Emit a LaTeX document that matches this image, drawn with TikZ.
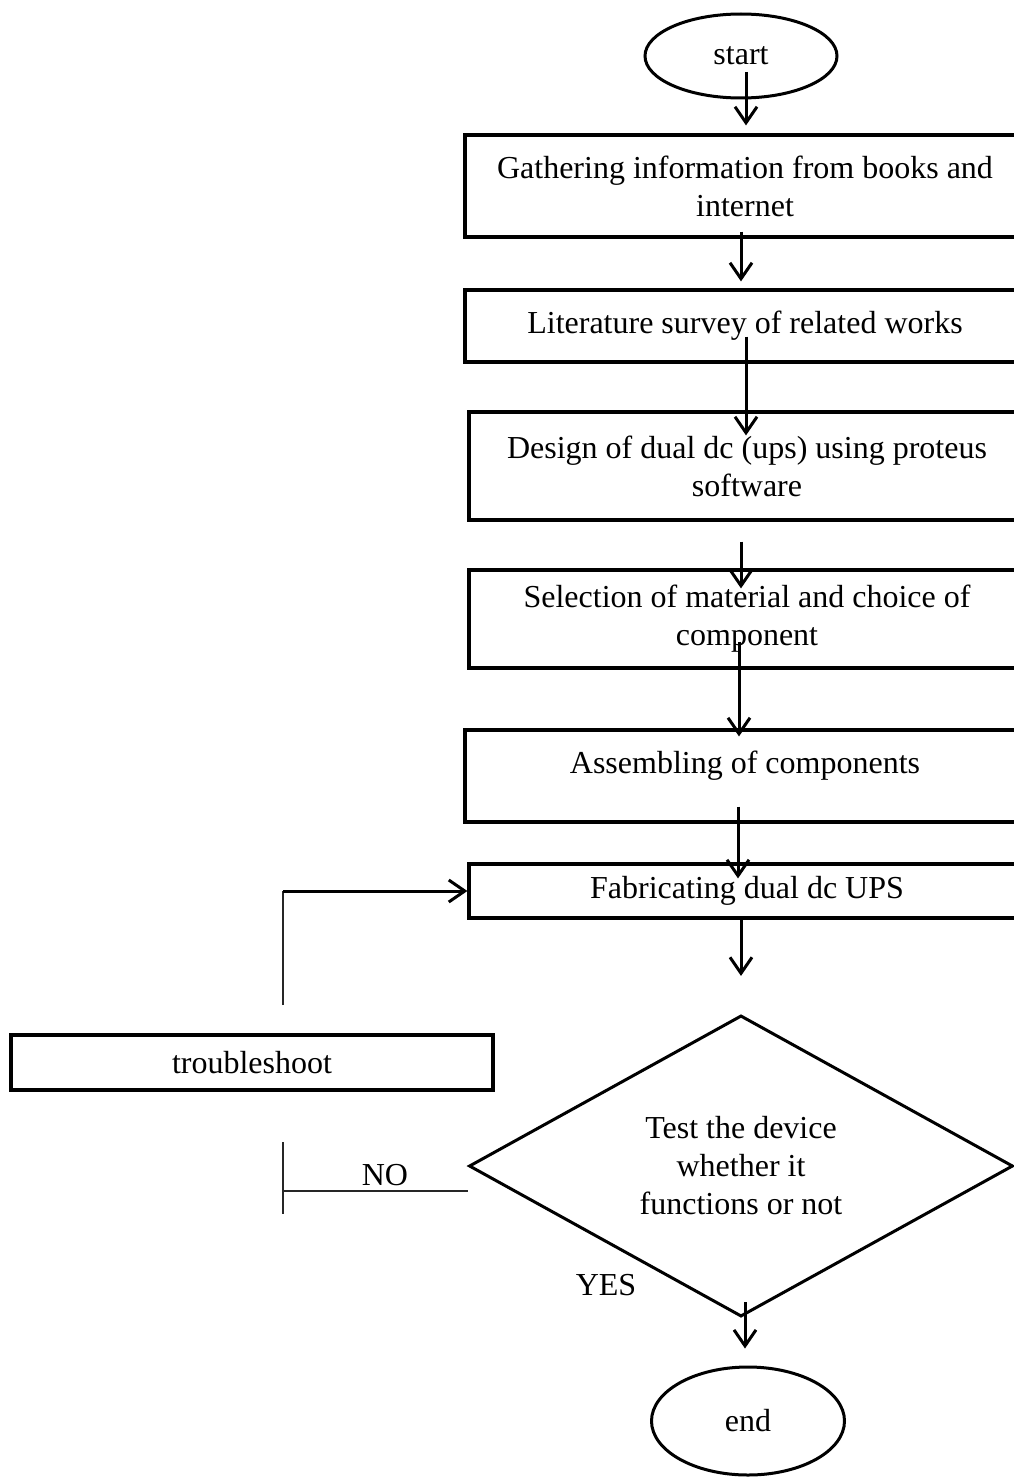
\documentclass[tikz,border=0pt]{standalone}
\usepackage{fontspec}
\setmainfont{Liberation Serif}
\usetikzlibrary{shapes.geometric,arrows.meta}

\begin{document}
\begin{tikzpicture}[x=1pt, y=-1pt, font=\fontsize{32}{38}\selectfont,
    box/.style={draw, line width=3.2pt, align=center, inner sep=0pt},
    terminal/.style={draw, ellipse, line width=3pt, inner sep=0pt},
    decision/.style={draw, diamond, line width=3pt, align=center, inner sep=0pt},
    flow/.style={line width=3pt, -{Straight Barb[length=16pt,width=22pt]}},
    thinline/.style={line width=1.8pt, black!85}]
  \useasboundingbox (0,0) rectangle (1013,1477);
  % main column
  \node[terminal, minimum width=192pt, minimum height=84pt] (start) at (741,56) {start};
  \node[box, minimum width=560pt, minimum height=102pt] (gather) at (745,186)
    {Gathering information from books and\\internet};
  \node[box, minimum width=560pt, minimum height=72pt] (survey) at (745,326)
    {Literature survey of related works};
  \node[box, minimum width=556pt, minimum height=108pt] (design) at (747,466)
    {Design of dual dc (ups) using proteus\\software};
  \node[box, minimum width=556pt, minimum height=98pt] (select) at (747,619)
    {Selection of material and choice of\\component};
  \node[box, minimum width=560pt, minimum height=92pt, text depth=27pt] (assemble) at (745,776)
    {Assembling of components};
  \node[box, minimum width=556pt, minimum height=54pt] (fab) at (747,891)
    {Fabricating dual dc UPS};
  \node[decision, minimum width=544pt, minimum height=263pt] (test) at (741,1166)
    {Test the device\\whether it\\functions or not};
  \node[terminal, minimum width=193pt, minimum height=108pt] (endnode) at (748,1421) {end};
  % side branch
  \node[box, minimum width=482pt, minimum height=55pt] (trouble) at (252,1062.5) {troubleshoot};
  \node (nolabel) at (385,1175) {NO};
  \node (yeslabel) at (606,1285) {YES};
  % arrows down the column
  \draw[flow] ([xshift=5pt,yshift=-16pt]start.center) -- ([xshift=1pt,yshift=8pt]gather.north);
  \draw[flow] ([xshift=-4pt,yshift=7pt]gather.south) -- ([xshift=-4pt,yshift=7pt]survey.north);
  \draw[flow] ([xshift=1pt,yshift=27pt]survey.south) -- ([xshift=-1pt,yshift=-25pt]design.north);
  \draw[flow] ([xshift=-6pt,yshift=-20pt]design.south) -- ([xshift=-6pt,yshift=-20pt]select.north);
  \draw[flow] ([xshift=-8pt,yshift=28pt]select.south) -- ([xshift=-6pt,yshift=-8pt]assemble.north);
  \draw[flow] ([xshift=-7pt,yshift=17pt]assemble.south) -- ([xshift=-9pt,yshift=-16pt]fab.north);
  \draw[flow] ([xshift=-6pt]fab.south) -- ([yshift=38pt]test.north);
  \draw[flow] ([xshift=4pt,yshift=16pt]test.south) -- ([xshift=-3pt,yshift=17pt]endnode.north);
  % loop back to fabrication
  \coordinate (loop) at (283,1005);
  \draw[thinline] (loop) -- (loop |- fab.west);
  \draw[flow] (loop |- fab.west) -- (fab.west);
  % NO branch
  \coordinate (notop) at (283,1142);
  \coordinate (nobot) at (283,1214);
  \coordinate (nofoot) at (283,1191);
  \draw[thinline] (notop) -- (nobot);
  \draw[thinline] (nofoot) -- (nofoot -| test.west);
\end{tikzpicture}
\end{document}
